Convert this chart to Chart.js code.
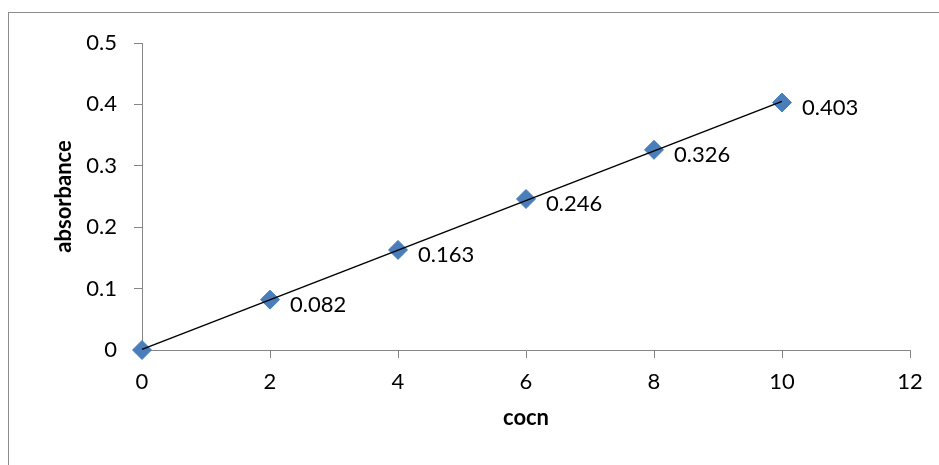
<!DOCTYPE html>
<html><head><meta charset="utf-8">
<script src="https://cdn.jsdelivr.net/npm/chart.js@4/dist/chart.umd.min.js"></script>
<style>html,body{margin:0;padding:0;background:#fff}#wrap{width:939px;height:465px;position:relative}</style>
</head><body><div id="wrap"><canvas id="c" width="939" height="465"></canvas></div>
<script>
// Data
const concentrations = [0, 2, 4, 6, 8, 10];
const absorbanceValues = [0, 0.082, 0.163, 0.246, 0.326, 0.403];
const pointLabels = ['', '0.082', '0.163', '0.246', '0.326', '0.403'];
// Trendline endpoints
const trendX = [0, 10];
const trendY = [0.001, 0.405];
const xTickLabels = ['0', '2', '4', '6', '8', '10', '12'];
const yTickLabels = ['0', '0.1', '0.2', '0.3', '0.4', '0.5'];
const xTitle = 'cocn';
const yTitle = 'absorbance';

const FONT = 'Lato';
const AXIS_COLOR = '#868686';
const MARKER = '#4A7EBB';

const scatterPts = concentrations.map((x, i) => ({x: x, y: absorbanceValues[i]}));
const trendPts = trendX.map((x, i) => ({x: x, y: trendY[i]}));

const framePlugin = {
  id: 'frame',
  beforeDraw(chart) {
    const ctx = chart.ctx;
    ctx.save();
    ctx.fillStyle = '#fff';
    ctx.fillRect(0, 0, chart.width, chart.height);
    ctx.strokeStyle = '#8C8C8C';
    ctx.lineWidth = 1;
    ctx.strokeRect(8.5, 12.5, 1000, 1000);
    ctx.restore();
  }
};

const labelPlugin = {
  id: 'pointLabels',
  afterDatasetsDraw(chart) {
    const meta = chart.getDatasetMeta(1);
    const ctx = chart.ctx;
    ctx.save();
    ctx.font = '22px ' + FONT;
    ctx.fillStyle = '#000';
    ctx.textAlign = 'left';
    ctx.textBaseline = 'middle';
    meta.data.forEach((pt, i) => {
      if (pointLabels[i]) ctx.fillText(pointLabels[i], pt.x + 20, pt.y + 5);
    });
    ctx.restore();
  }
};

new Chart(document.getElementById('c'), {
  type: 'scatter',
  data: {
    datasets: [
      {
        type: 'line',
        data: trendPts,
        borderColor: '#000',
        borderWidth: 1.5,
        pointRadius: 0,
        fill: false,
        clip: false,
        order: 0
      },
      {
        data: scatterPts,
        pointStyle: 'rectRot',
        pointRadius: 9.5,
        pointHoverRadius: 9.5,
        backgroundColor: MARKER,
        borderColor: MARKER,
        borderWidth: 1,
        showLine: false,
        clip: false,
        order: 1
      }
    ]
  },
  options: {
    responsive: false,
    animation: false,
    events: [],
    layout: {padding: {left: 0, top: 43, right: 29, bottom: 0}},
    plugins: {legend: {display: false}, tooltip: {enabled: false}},
    scales: {
      x: {
        type: 'linear',
        min: 0, max: 12,
        afterFit(s) { s.height = 115; },
        ticks: {
          stepSize: 2,
          color: '#000',
          font: {family: FONT, size: 22},
          padding: 11,
          maxRotation: 0,
          callback: (v) => xTickLabels[Math.round(v / 2)]
        },
        grid: {drawOnChartArea: false, drawTicks: true, tickLength: 8, color: AXIS_COLOR},
        border: {color: AXIS_COLOR, width: 1},
        title: {
          display: true, text: xTitle, color: '#000',
          font: {family: FONT, size: 22, weight: 'bold'},
          padding: {top: 0, bottom: 34}
        }
      },
      y: {
        type: 'linear',
        min: 0, max: 0.5,
        afterFit(s) { s.width = 142; },
        ticks: {
          stepSize: 0.1,
          color: '#000',
          font: {family: FONT, size: 22},
          padding: 17,
          callback: (v) => yTickLabels[Math.round(v * 10)]
        },
        grid: {drawOnChartArea: false, drawTicks: true, tickLength: 8, color: AXIS_COLOR},
        border: {color: AXIS_COLOR, width: 1},
        title: {
          display: true, text: yTitle, color: '#000',
          font: {family: FONT, size: 22, weight: 'bold'},
          padding: {top: 51, bottom: 0}
        }
      }
    }
  },
  plugins: [framePlugin, labelPlugin]
});
</script>
</body></html>
